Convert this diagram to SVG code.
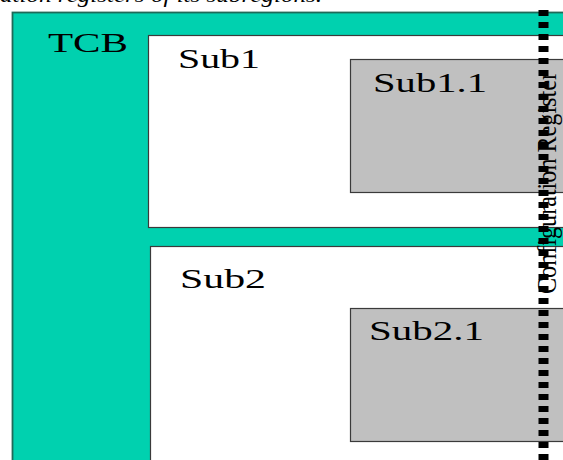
<svg xmlns="http://www.w3.org/2000/svg" width="563" height="460" viewBox="0 0 563 460">
  <style>
    .lbl { font-family: "Liberation Serif", "Times New Roman", serif; font-size: 27px; fill: #000; }
    .cap { font-family: "Liberation Serif", "Times New Roman", serif; font-style: italic; font-size: 22px; fill: #000; }
    .region { fill: #ffffff; stroke: #3a3a3a; stroke-width: 1.2; }
    .sub { fill: #c0c0c0; stroke: #3a3a3a; stroke-width: 1.2; }
    .reg { stroke: #000; stroke-width: 10; stroke-dasharray: 6 6; fill: none; }
  </style>

  <text class="cap" x="0" y="2" textLength="322" lengthAdjust="spacingAndGlyphs">ation registers of its subregions.</text>

  <g id="tcb">
    <rect x="12.5" y="12.5" width="570" height="470" fill="#00d1af" stroke="#1e6a58" stroke-width="1.8"/>
    <text class="lbl" x="48" y="52" font-size="28" textLength="80" lengthAdjust="spacingAndGlyphs">TCB</text>
  </g>

  <g id="sub1">
    <rect class="region" x="148.5" y="35.5" width="430" height="192"/>
    <text class="lbl" x="178" y="68" textLength="82" lengthAdjust="spacingAndGlyphs">Sub1</text>
  </g>

  <g id="sub1-1">
    <rect class="sub" x="350.5" y="59.5" width="230" height="133"/>
    <text class="lbl" x="373" y="92" textLength="114" lengthAdjust="spacingAndGlyphs">Sub1.1</text>
  </g>

  <g id="sub2">
    <rect class="region" x="150.5" y="246.5" width="430" height="230"/>
    <text class="lbl" x="180" y="288" textLength="86" lengthAdjust="spacingAndGlyphs">Sub2</text>
  </g>

  <g id="sub2-1">
    <rect class="sub" x="350.5" y="308.5" width="230" height="133"/>
    <text class="lbl" x="369" y="340" textLength="115" lengthAdjust="spacingAndGlyphs">Sub2.1</text>
  </g>

  <g id="config-register">
    <line class="reg" x1="543.5" y1="10" x2="543.5" y2="462"/>
    <text class="lbl" font-size="32" transform="translate(556 294) rotate(-90)" textLength="222" lengthAdjust="spacingAndGlyphs">Configuration Register</text>
  </g>
</svg>
